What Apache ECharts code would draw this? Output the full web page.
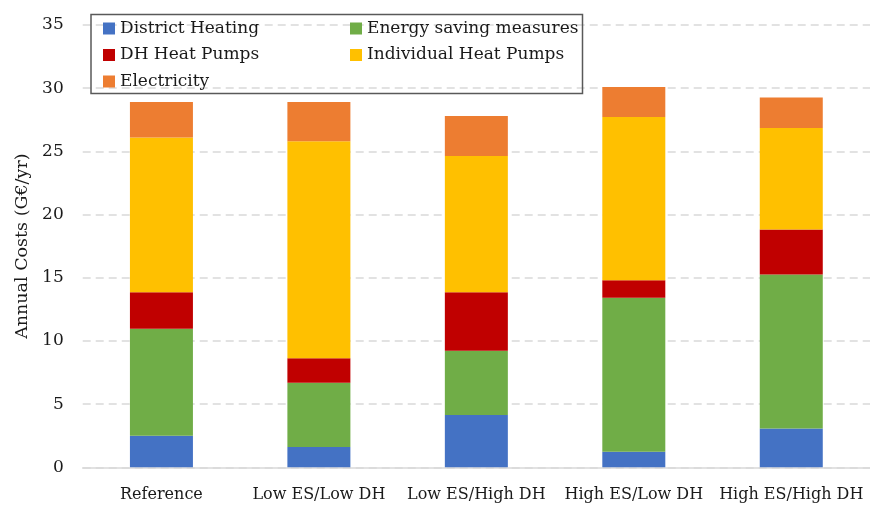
<!DOCTYPE html>
<html>
<head>
<meta charset="utf-8">
<script src="https://cdn.jsdelivr.net/npm/echarts@6/dist/echarts.min.js"></script>
<style>
  html, body { margin: 0; padding: 0; background: #ffffff; }
  #chart { width: 870px; height: 506px; }
</style>
</head>
<body>
<div id="chart"></div>
<script>
// Scenario categories along the x axis
const categories = ['Reference', 'Low ES/Low DH', 'Low ES/High DH', 'High ES/Low DH', 'High ES/High DH'];

// Annual cost components (G€/yr), stacked bottom to top
const districtHeating   = [2.5, 1.6, 4.13, 1.23, 3.08];
const energySaving      = [8.46, 5.09, 5.09, 12.18, 12.18];
const dhHeatPumps       = [2.9, 1.93, 4.64, 1.39, 3.55];
const individualHP      = [12.24, 17.18, 10.77, 12.92, 8.04];
const electricity       = [2.8, 3.1, 3.17, 2.37, 2.42];

// Value axis ticks
const yTicks = { min: 0, max: 35, interval: 5 };

const FONT = 'DejaVu Serif';

const seriesDefs = [
  { name: 'District Heating', data: districtHeating, color: '#4472C4' },
  { name: 'Energy saving measures', data: energySaving, color: '#70AD47' },
  { name: 'DH Heat Pumps', data: dhHeatPumps, color: '#C00000' },
  { name: 'Individual Heat Pumps', data: individualHP, color: '#FFC000' },
  { name: 'Electricity', data: electricity, color: '#ED7D31' }
];

const legendText = { fontFamily: FONT, fontSize: 17, color: '#1a1a1a', lineHeight: 20 };

const chart = echarts.init(document.getElementById('chart'), null, { renderer: 'canvas' });

chart.setOption({
  animation: false,
  backgroundColor: '#ffffff',
  grid: { left: 82.7, right: -3, top: 25, bottom: 38.7, containLabel: false },
  legend: [
    {
      orient: 'vertical', left: 103, top: 18.5, itemGap: 6.5,
      itemWidth: 12, itemHeight: 12, icon: 'rect', itemStyle: { borderWidth: 0 },
      textStyle: legendText, padding: 0,
      data: ['District Heating', 'DH Heat Pumps', 'Electricity']
    },
    {
      orient: 'vertical', left: 350, top: 18.5, itemGap: 6.5,
      itemWidth: 12, itemHeight: 12, icon: 'rect', itemStyle: { borderWidth: 0 },
      textStyle: legendText, padding: 0,
      data: ['Energy saving measures', 'Individual Heat Pumps']
    }
  ],
  graphic: [
    {
      type: 'rect', z: 100,
      shape: { x: 91, y: 14.5, width: 491.5, height: 79 },
      style: { fill: 'none', stroke: '#595959', lineWidth: 1.5 }
    }
  ],
  xAxis: {
    type: 'category',
    data: categories,
    axisLine: { show: true, lineStyle: { color: '#d9d9d9', width: 1.5 } },
    axisTick: { show: false },
    axisLabel: { fontFamily: FONT, fontSize: 16, color: '#1a1a1a', margin: 20, interval: 0 }
  },
  yAxis: {
    type: 'value',
    min: yTicks.min, max: yTicks.max, interval: yTicks.interval,
    name: 'Annual Costs (G€/yr)',
    nameLocation: 'middle',
    nameGap: 47,
    nameTextStyle: { fontFamily: FONT, fontSize: 17.5, color: '#1a1a1a' },
    axisLine: { show: false },
    axisTick: { show: false },
    axisLabel: { fontFamily: FONT, fontSize: 17, color: '#1a1a1a', margin: 19 },
    splitLine: { show: true, lineStyle: { color: '#d9d9d9', width: 1.5, type: [8, 5] } }
  },
  series: seriesDefs.map(s => ({
    name: s.name,
    type: 'bar',
    stack: 'total',
    barWidth: 63,
    data: s.data,
    itemStyle: { color: s.color },
    emphasis: { disabled: true }
  }))
});
</script>
</body>
</html>
